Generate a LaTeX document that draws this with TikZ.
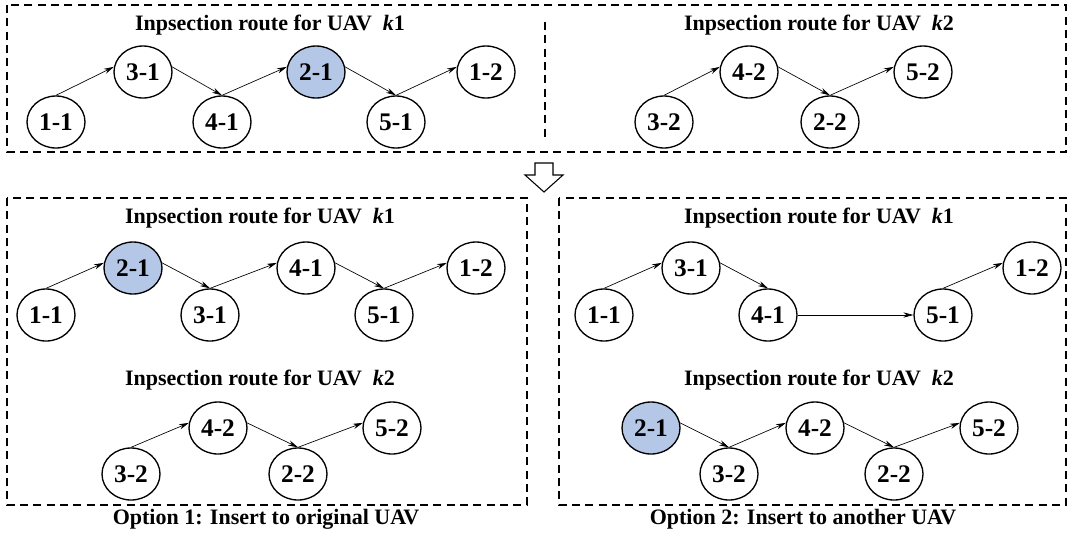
\documentclass[tikz,border=0pt]{standalone}
\usepackage{fontspec}
\setmainfont{Liberation Serif}
\usepackage{xcolor}
\usetikzlibrary{shapes, arrows.meta, positioning, calc}
\definecolor{pickblue}{RGB}{181,199,231}

\tikzset{
	stopnode/.style={ellipse, draw, line width=1pt, minimum width=43.5pt, minimum height=39pt, inner sep=0pt, font=\fontsize{19}{19}\selectfont\bfseries},
	picked/.style={stopnode, fill=pickblue},
	hop/.style={-{Stealth[length=7.5pt,width=4pt]}, line width=0.5pt},
	routetitle/.style={font=\fontsize{16.5}{16.5}\selectfont\bfseries},
	dashframe/.style={line width=1pt, dash pattern=on 6pt off 4pt}
}

\begin{document}
\begin{tikzpicture}[x=0.75pt, y=-0.75pt]
	\useasboundingbox (0,0) rectangle (1071,540);
	\pgfmathsetmacro{\up}{72}
	\pgfmathsetmacro{\dn}{122}

	% current routes
	\draw[dashframe] (7,5) rectangle (1066,152);
	\draw[dashframe] (545,22) -- (545,137);
	\node[routetitle] (tk1) at (270,25) {Inpsection route for UAV~~\textit{k}1};
	\node[routetitle] (tk2) at (819,25) {Inpsection route for UAV~~\textit{k}2};

	\node[stopnode] (t11) at (56,\dn) {1-1};
	\node[stopnode] (t31) at (143,\up) {3-1};
	\node[stopnode] (t41) at (222,\dn) {4-1};
	\node[picked]   (t21) at (316,\up) {2-1};
	\node[stopnode] (t51) at (396,\dn) {5-1};
	\node[stopnode] (t12) at (486,\up) {1-2};
	\draw[hop] (t11.north) -- (t31.170);
	\draw[hop] (t31.10) -- (t41.north);
	\draw[hop] (t41.north) -- (t21.170);
	\draw[hop] (t21.10) -- (t51.north);
	\draw[hop] (t51.north) -- (t12.170);

	\node[stopnode] (t32) at (664,\dn) {3-2};
	\node[stopnode] (t42) at (749,\up) {4-2};
	\node[stopnode] (t22) at (830,\dn) {2-2};
	\node[stopnode] (t52) at (923,\up) {5-2};
	\draw[hop] (t32.north) -- (t42.170);
	\draw[hop] (t42.10) -- (t22.north);
	\draw[hop] (t22.north) -- (t52.170);

	% block arrow
	\draw[line width=0.8pt, fill=white] (535,163) -- (553,163) -- (553,175) -- (563,175) -- (544,192) -- (525,175) -- (535,175) -- cycle;

	% option 1
	\draw[dashframe] (7,198) rectangle (527,505);
	\node[routetitle] (lk1) at (260,218) {Inpsection route for UAV~~\textit{k}1};
	\node[routetitle] (lk2) at (260,380) {Inpsection route for UAV~~\textit{k}2};
	\node[routetitle] (opt1) at (266,519) {Option 1: Insert to original UAV};

	\node[stopnode] (l11) at (46,315) {1-1};
	\node[picked]   (l21) at (133,268) {2-1};
	\node[stopnode] (l31) at (210,315) {3-1};
	\node[stopnode] (l41) at (306,268) {4-1};
	\node[stopnode] (l51) at (384,315) {5-1};
	\node[stopnode] (l12) at (476,268) {1-2};
	\draw[hop] (l11.north) -- (l21.170);
	\draw[hop] (l21.10) -- (l31.north);
	\draw[hop] (l31.north) -- (l41.170);
	\draw[hop] (l41.10) -- (l51.north);
	\draw[hop] (l51.north) -- (l12.170);

	\node[stopnode] (l32) at (131,474) {3-2};
	\node[stopnode] (l42) at (218,428) {4-2};
	\node[stopnode] (l22) at (298,474) {2-2};
	\node[stopnode] (l52) at (392,428) {5-2};
	\draw[hop] (l32.north) -- (l42.170);
	\draw[hop] (l42.10) -- (l22.north);
	\draw[hop] (l22.north) -- (l52.170);

	% option 2
	\draw[dashframe] (559,198) rectangle (1066,505);
	\node[routetitle] (rk1) at (819,218) {Inpsection route for UAV~~\textit{k}1};
	\node[routetitle] (rk2) at (819,380) {Inpsection route for UAV~~\textit{k}2};
	\node[routetitle] (opt2) at (803,519) {Option 2: Insert to another UAV};

	\node[stopnode] (r11) at (604,315) {1-1};
	\node[stopnode] (r31) at (691,268) {3-1};
	\node[stopnode] (r41) at (768,315) {4-1};
	\node[stopnode] (r51) at (943,315) {5-1};
	\node[stopnode] (r12) at (1032,268) {1-2};
	\draw[hop] (r11.north) -- (r31.170);
	\draw[hop] (r31.10) -- (r41.north);
	\draw[hop] (r41.east) -- (r51.west);
	\draw[hop] (r51.north) -- (r12.170);

	\node[picked]   (r21) at (651,428) {2-1};
	\node[stopnode] (r32) at (729,474) {3-2};
	\node[stopnode] (r42) at (815,428) {4-2};
	\node[stopnode] (r22) at (894,474) {2-2};
	\node[stopnode] (r52) at (989,428) {5-2};
	\draw[hop] (r21.10) -- (r32.north);
	\draw[hop] (r32.north) -- (r42.170);
	\draw[hop] (r42.10) -- (r22.north);
	\draw[hop] (r22.north) -- (r52.170);
\end{tikzpicture}
\end{document}
